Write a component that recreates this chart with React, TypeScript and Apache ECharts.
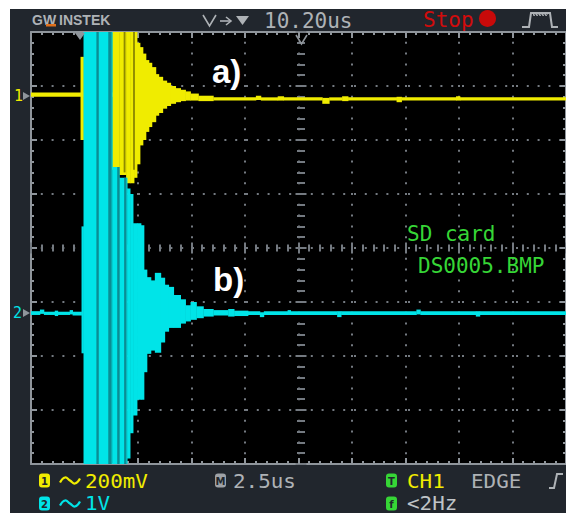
import React, { useEffect, useRef } from "react";
import * as echarts from "echarts";

// ---------------- DATA ----------------
// Horizontal: time in µs (2.5 µs/div, 10 div). Vertical: screen divisions (8 div, centre = 0).
const TIME_MIN = 0;
const TIME_MAX = 25;
const TIME_PER_DIV = 2.5;
const DIV_MIN = -4;
const DIV_MAX = 4;

// CH1 (yellow) – peak-detect envelope; segment i spans ch1Edges[i] .. ch1Edges[i+1]
const ch1Edges = [0, 2.315, 2.454, 3.796, 4.12, 4.444, 4.63, 4.815, 4.954, 5.093, 5.231, 5.37, 5.509, 5.648, 5.833, 5.972, 6.157, 6.343, 6.528, 6.759, 6.991, 7.222, 7.454, 7.824, 8.519, 10.509, 10.741, 11.528, 11.806, 13.611, 13.935, 14.537, 14.815, 17.083, 17.315, 19.861, 20.046, 25];
const ch1Max = [2.88, 3.54, 2.88, 5, 5, 5, 5, 5, 3.8, 3.72, 3.6, 3.48, 3.43, 3.35, 3.22, 3.17, 3.1, 3.06, 3.0, 2.96, 2.93, 2.9, 2.86, 2.82, 2.79, 2.82, 2.79, 2.81, 2.79, 2.78, 2.79, 2.81, 2.79, 2.8, 2.79, 2.81, 2.79];
const ch1Min = [2.8, 2.0, 2.8, 1.45, 1.35, 1.2, 1.2, 1.3, 1.55, 1.9, 2.0, 2.15, 2.24, 2.33, 2.45, 2.5, 2.58, 2.63, 2.67, 2.7, 2.72, 2.73, 2.73, 2.72, 2.73, 2.74, 2.73, 2.73, 2.73, 2.67, 2.73, 2.72, 2.73, 2.7, 2.73, 2.73, 2.73];

// CH2 (cyan)
const ch2Edges = [0, 0.417, 0.602, 1.111, 1.25, 1.806, 1.944, 2.361, 2.454, 3.796, 4.12, 4.491, 4.63, 4.769, 4.954, 5.139, 5.278, 5.417, 5.602, 5.787, 6.065, 6.25, 6.435, 6.667, 6.991, 7.222, 7.454, 7.731, 8.056, 8.519, 9.213, 9.491, 10.139, 10.694, 10.88, 11.991, 12.13, 14.306, 14.491, 18.009, 18.194, 20.787, 20.972, 25];
const ch2Max = [-1.17, -1.14, -1.18, -1.16, -1.18, -1.15, -1.18, 0.4, 5, 1.5, 1.3, 1.1, 1.0, 0.46, 0.46, 0.42, -0.4, -0.54, -0.6, -0.46, -0.55, -0.68, -0.72, -0.87, -0.95, -1.06, -1.0, -1.08, -1.13, -1.15, -1.13, -1.16, -1.17, -1.19, -1.17, -1.15, -1.17, -1.17, -1.17, -1.14, -1.17, -1.17, -1.17];
const ch2Min = [-1.24, -1.22, -1.24, -1.26, -1.24, -1.23, -1.25, -1.95, -5, -5, -5, -3.9, -3.43, -3.1, -2.81, -2.81, -2.3, -1.96, -1.9, -1.94, -1.75, -1.55, -1.48, -1.48, -1.4, -1.36, -1.33, -1.3, -1.27, -1.25, -1.27, -1.26, -1.24, -1.28, -1.24, -1.24, -1.24, -1.28, -1.24, -1.23, -1.24, -1.27, -1.24];

// darker intensity streaks inside the bursts
const ch1StreakStart = [4.329, 4.769];
const ch1StreakEnd = [4.398, 4.838];
const ch1StreakMax = [5, 5];
const ch1StreakMin = [1.4, 1.45];
const ch2StreakStart = [3.056, 3.611, 4.028, 4.352];
const ch2StreakEnd = [3.148, 3.75, 4.12, 4.444];
const ch2StreakMax = [5, 5, 1.5, 1.3];
const ch2StreakMin = [-5, -5, -5, -5];

// readout texts
const BRAND_A = "GW";
const BRAND_B = "INSTEK";
const H_POSITION = "10.20us";
const RUN_STATE = "Stop";
const CH1_SCALE = "200mV";
const CH2_SCALE = "1V";
const TIMEBASE = "2.5us";
const TRIG_SOURCE = "CH1";
const TRIG_TYPE = "EDGE";
const TRIG_FREQ = "<2Hz";
const SAVE_MSG_1 = "SD card";
const SAVE_MSG_2 = "DS0005.BMP";
const LABEL_A = "a)";
const LABEL_B = "b)";

// ---------------- STYLE ----------------
const PANEL = "#21262d";
const FRAME = "#8f959b";
const DOTS = "#747a81";
const YELLOW = "#f0ec00";
const CYAN = "#00e4e8";
const GREEN = "#36d636";
const GRAY = "#aeb2b6";
const MONO = '"DejaVu Sans Mono", monospace';

function segs(edges: number[], hi: number[], lo: number[]) {
  return hi.map((h, i) => [edges[i], edges[i + 1], h, lo[i]]);
}
function streaks(s: number[], e: number[], hi: number[], lo: number[]) {
  return s.map((v, i) => [v, e[i], hi[i], lo[i]]);
}

function band(name: string, data: number[][], color: string, z: number) {
  return {
    type: "custom",
    name,
    z,
    clip: true,
    silent: true,
    xAxisIndex: 0,
    yAxisIndex: 0,
    encode: { x: [0, 1], y: [2, 3] },
    data,
    renderItem: (_p: any, api: any) => {
      const a = api.coord([api.value(0), api.value(2)]);
      const b = api.coord([api.value(1), api.value(3)]);
      return {
        type: "rect",
        shape: { x: a[0], y: a[1], width: b[0] - a[0] + 0.4, height: Math.max(b[1] - a[1], 1) },
        style: { fill: color },
      };
    },
  };
}

const tickLine = { color: FRAME, width: 2 };

function frameX(position: string, extra: any = {}) {
  return {
    type: "value", gridIndex: 0, position, min: TIME_MIN, max: TIME_MAX, interval: TIME_PER_DIV,
    axisLine: { show: true, onZero: false, lineStyle: { color: FRAME, width: 2 } },
    axisTick: { show: true, inside: true, length: 6, lineStyle: tickLine },
    minorTick: { show: true, splitNumber: 5, length: 3, lineStyle: tickLine },
    axisLabel: { show: false },
    splitLine: { show: false },
    ...extra,
  };
}
function frameY(position: string, extra: any = {}) {
  return {
    type: "value", gridIndex: 0, position, min: DIV_MIN, max: DIV_MAX, interval: 1,
    axisLine: { show: true, onZero: false, lineStyle: { color: FRAME, width: 2 } },
    axisTick: { show: true, inside: true, length: 6, lineStyle: tickLine },
    minorTick: { show: true, splitNumber: 5, length: 3, lineStyle: tickLine },
    axisLabel: { show: false },
    splitLine: { show: false },
    ...extra,
  };
}
function centreX(inside: boolean) {
  return {
    type: "value", gridIndex: 0, position: "bottom", offset: -216, min: TIME_MIN, max: TIME_MAX, interval: TIME_PER_DIV,
    axisLine: { show: false, onZero: false },
    axisTick: { show: true, inside, length: 5.5, lineStyle: { color: DOTS, width: 2 } },
    minorTick: { show: true, splitNumber: 5, length: 3.5, lineStyle: { color: DOTS, width: 2 } },
    axisLabel: { show: false },
    splitLine: { show: false },
  };
}
function centreY(inside: boolean) {
  return {
    type: "value", gridIndex: 0, position: "left", offset: -270, min: DIV_MIN, max: DIV_MAX, interval: 1,
    axisLine: { show: false, onZero: false },
    axisTick: { show: true, inside, length: 5.5, lineStyle: { color: DOTS, width: 2 } },
    minorTick: { show: true, splitNumber: 5, length: 4, lineStyle: { color: DOTS, width: 2 } },
    axisLabel: { show: false },
    splitLine: { show: false },
  };
}

const dotted = { show: true, lineStyle: { color: DOTS, width: 2, type: [2, 8.8], dashOffset: 1 } };

function txt(text: string, x: number, y: number, fill: string, font: string, align = "left", extra: any = {}) {
  return {
    type: "text", x, y, z: 100,
    style: { text, fill, font, textAlign: align, textVerticalAlign: "middle", align, verticalAlign: "middle" },
    ...extra,
  };
}
function badge(ch: string, x: number, yc: number, color: string) {
  return [
    { type: "rect", z: 100, shape: { x, y: yc - 7, width: 11, height: 14, r: 3 }, style: { fill: color } },
    txt(ch, x + 5.5, yc + 0.5, PANEL, 'bold 10px "DejaVu Sans"', "center"),
  ];
}
function tilde(x: number, yc: number, color: string) {
  return {
    type: "polyline", z: 100,
    shape: { points: [[x, yc + 2], [x + 5, yc - 3], [x + 10, yc], [x + 15, yc + 3], [x + 20, yc - 2]], smooth: 0.5 },
    style: { stroke: color, lineWidth: 2.2, fill: "none" },
  };
}

export default function App() {
  const ref = useRef<HTMLDivElement>(null);
  useEffect(() => {
    if (!ref.current) return;
    const chart = echarts.init(ref.current, undefined, { renderer: "svg" });
    const mono21 = `normal 21px ${MONO}`;
    const foot = `normal 19px ${MONO}`;
    const wide = { scaleX: 1.1 };
    const option: any = {
      animation: false,
      backgroundColor: "#ffffff",
      grid: { left: 31, top: 32, width: 540, height: 432, containLabel: false, show: false },
      xAxis: [frameX("bottom", { splitLine: dotted }), frameX("top"), centreX(true), centreX(false)],
      yAxis: [frameY("left", { splitLine: dotted }), frameY("right"), centreY(true), centreY(false)],
      series: [
        band("CH1", segs(ch1Edges, ch1Max, ch1Min), YELLOW, 3),
        band("CH1 streaks", streaks(ch1StreakStart, ch1StreakEnd, ch1StreakMax, ch1StreakMin), "#8e8a00", 4),
        band("CH2", segs(ch2Edges, ch2Max, ch2Min), CYAN, 5),
        band("CH2 streaks", streaks(ch2StreakStart, ch2StreakEnd, ch2StreakMax, ch2StreakMin), "#0b8d94", 6),
      ],
      graphic: {
        elements: [
          { type: "rect", z: -20, shape: { x: 10, y: 9, width: 556, height: 504 }, style: { fill: PANEL } },
          { type: "rect", z: -19, shape: { x: 31, y: 32, width: 540, height: 432 }, style: { fill: "#000000" } },
          // header
          txt(BRAND_A, 32, 20, GRAY, 'bold 14px "Liberation Sans"'),
          { type: "rect", z: 100, shape: { x: 46, y: 24, width: 10, height: 2.5 }, style: { fill: "#e0701c" } },
          txt(BRAND_B, 59, 20, GRAY, 'bold 14px "Liberation Sans"'),
          { type: "polyline", z: 100, shape: { points: [[203, 15], [209.5, 26], [216, 15]] }, style: { stroke: GRAY, lineWidth: 1.6, fill: "none" } },
          { type: "line", z: 100, shape: { x1: 220, y1: 21, x2: 231, y2: 21 }, style: { stroke: GRAY, lineWidth: 1.6 } },
          { type: "polyline", z: 100, shape: { points: [[226, 17], [231, 21], [226, 25]] }, style: { stroke: GRAY, lineWidth: 1.6, fill: "none" } },
          { type: "polygon", z: 100, shape: { points: [[236, 16], [249, 16], [242.5, 25]] }, style: { fill: GRAY } },
          txt(H_POSITION, 264, 21, GRAY, mono21),
          txt(RUN_STATE, 423, 20, "#d10c0c", mono21),
          { type: "circle", z: 100, shape: { cx: 487.5, cy: 18.5, r: 8.5 }, style: { fill: "#c80a0a" } },
          { type: "polyline", z: 100, shape: { points: [[522, 27], [529, 27], [531, 13], [550, 13], [552, 27], [558, 27]] }, style: { stroke: GRAY, lineWidth: 2, fill: "none" } },
          { type: "polyline", z: 100, shape: { points: [[533, 13], [534, 16], [536, 13], [537, 16], [539, 13], [540, 16], [542, 13], [543, 16], [545, 13], [546, 16], [548, 13]] }, style: { stroke: GRAY, lineWidth: 1, fill: "none" } },
          // top markers
          { type: "polygon", z: 100, shape: { points: [[75, 33], [85, 33], [80, 40]] }, style: { fill: FRAME } },
          { type: "polyline", z: 100, shape: { points: [[296, 35], [301.5, 44], [307, 35]] }, style: { stroke: FRAME, lineWidth: 1.6, fill: "none" } },
          // channel ground markers
          txt("1", 23, 96, YELLOW, `normal 15px ${MONO}`, "right"),
          { type: "polygon", z: 100, shape: { points: [[23, 92], [30, 96], [23, 100]] }, style: { fill: FRAME } },
          txt("2", 22, 313, CYAN, `normal 15px ${MONO}`, "right"),
          { type: "polygon", z: 100, shape: { points: [[23, 309], [30, 313], [23, 317]] }, style: { fill: FRAME } },
          // annotations
          txt(LABEL_A, 212, 71, "#ffffff", 'bold 33px "Liberation Sans"'),
          txt(LABEL_B, 213, 279, "#ffffff", 'bold 33px "Liberation Sans"'),
          txt(SAVE_MSG_1, 407, 234, GREEN, mono21),
          txt(SAVE_MSG_2, 418, 266, GREEN, mono21),
          // footer row 1
          ...badge("1", 39, 480.5, YELLOW),
          tilde(60, 480.5, YELLOW),
          txt(CH1_SCALE, 85, 481, YELLOW, foot, "left", wide),
          ...badge("M", 215, 480.5, "#9ea2a7"),
          txt(TIMEBASE, 233, 481, GRAY, foot, "left", wide),
          ...badge("T", 386, 480.5, GREEN),
          txt(TRIG_SOURCE, 407, 481, YELLOW, foot, "left", wide),
          txt(TRIG_TYPE, 471, 481, GRAY, foot, "left", wide),
          { type: "polyline", z: 100, shape: { points: [[549, 488], [554, 488], [557, 474], [563, 474]] }, style: { stroke: GRAY, lineWidth: 2, fill: "none" } },
          // footer row 2
          ...badge("2", 39, 503.5, CYAN),
          tilde(60, 503.5, CYAN),
          txt(CH2_SCALE, 85, 503, CYAN, foot, "left", wide),
          ...badge("f", 386, 503.5, GREEN),
          txt(TRIG_FREQ, 407, 503, "#bfc3c7", foot, "left", wide),
        ],
      },
    };
    chart.setOption(option);
    return () => chart.dispose();
  }, []);
  return (
    <div
      ref={ref}
      style={{ position: "absolute", left: 0, top: 0, width: 566, height: 513, background: "#ffffff" }}
    />
  );
}
